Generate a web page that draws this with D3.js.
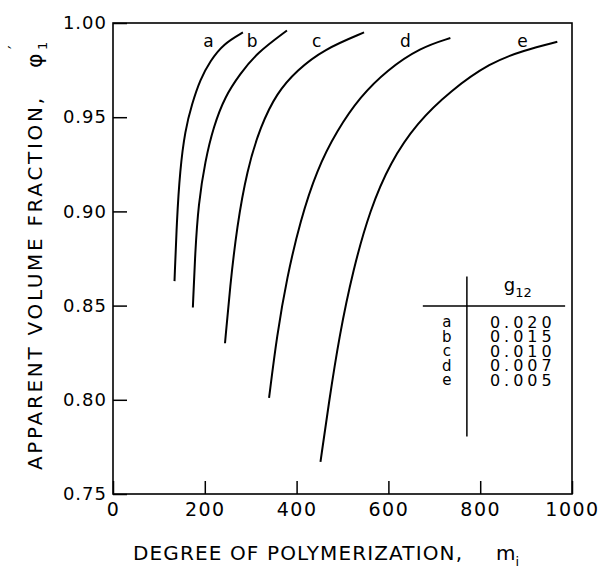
<!DOCTYPE html>
<html lang="en">

<head>
    <meta charset="UTF-8">
    <title>Apparent volume fraction</title>
    <style>
        body { margin: 0; background: #fff; }
        text { font-family: "DejaVu Sans", sans-serif; fill: #000; }
    </style>
</head>

<body>
    <svg id="vis"></svg>
    <script src="https://d3js.org/d3.v7.min.js"></script>
    <script>
        // Data: [degree of polymerization m_i, apparent volume fraction phi'_1]
        const curveA = [[134, 0.863], [139, 0.895], [146, 0.922], [157, 0.943], [172, 0.957], [190, 0.970], [212, 0.980], [241, 0.989], [283, 0.995]]
        const curveB = [[174, 0.849], [179, 0.878], [186, 0.904], [201, 0.927], [219, 0.945], [244, 0.961], [277, 0.973], [313, 0.984], [379, 0.996]]
        const curveC = [[244, 0.830], [255, 0.860], [270, 0.892], [292, 0.922], [321, 0.945], [357, 0.963], [401, 0.975], [459, 0.986], [547, 0.995]]
        const curveD = [[340, 0.801], [357, 0.834], [379, 0.865], [408, 0.895], [444, 0.922], [488, 0.943], [539, 0.961], [597, 0.975], [670, 0.987], [735, 0.992]]
        const curveE = [[452, 0.767], [470, 0.798], [493, 0.834], [523, 0.869], [560, 0.901], [604, 0.926], [662, 0.947], [735, 0.964], [822, 0.979], [895, 0.9855], [968, 0.990]]

        const curveNames = ['a', 'b', 'c', 'd', 'e']
        const g12Values = ['0.020', '0.015', '0.010', '0.007', '0.005']
        const xTicks = [0, 200, 400, 600, 800, 1000]
        const yTicks = [0.75, 0.80, 0.85, 0.90, 0.95, 1.00]

        const series = [curveA, curveB, curveC, curveD, curveE]

        // Layout
        const width = 616
        const height = 570
        const margin = { top: 23, right: 44, bottom: 76, left: 113 }
        const labelM = [208, 303, 444, 637, 892]   // where the curve letters sit
        const labelPhi = 0.9905

        const svg = d3.select('#vis').attr('width', width).attr('height', height)

        const x = d3.scaleLinear().domain([0, 1000]).range([margin.left, width - margin.right])
        const y = d3.scaleLinear().domain([0.75, 1.0]).range([height - margin.bottom, margin.top])

        // Axes (ticks point inward)
        const xAxis = svg.append('g')
            .attr('transform', `translate(0,${y(0.75)})`)
            .call(d3.axisBottom(x).tickValues(xTicks).tickSizeInner(-13).tickSizeOuter(0).tickPadding(9).tickFormat(d3.format('d')))
        xAxis.select('.domain').remove()
        xAxis.selectAll('.tick line').attr('stroke-width', 1.5)
        xAxis.selectAll('.tick text')
            .style('font-family', '"DejaVu Sans", sans-serif')
            .style('font-size', '19px')
            .style('letter-spacing', '1.5px')

        const yAxis = svg.append('g')
            .attr('transform', `translate(${x(0)},0)`)
            .call(d3.axisLeft(y).tickValues(yTicks).tickSizeInner(-14).tickSizeOuter(0).tickPadding(6).tickFormat(d3.format('.2f')))
        yAxis.select('.domain').remove()
        yAxis.selectAll('.tick line').attr('stroke-width', 1.5)
        yAxis.selectAll('.tick text')
            .style('font-family', '"DejaVu Sans", sans-serif')
            .style('font-size', '18px')
            .style('letter-spacing', '1px')

        // Frame
        svg.append('rect')
            .attr('x', x(0)).attr('y', y(1.0))
            .attr('width', x(1000) - x(0)).attr('height', y(0.75) - y(1.0))
            .attr('fill', 'none').attr('stroke', '#000').attr('stroke-width', 1.6)

        // Curves
        const line = d3.line()
            .x(d => x(d[0]))
            .y(d => y(d[1]))
            .curve(d3.curveBasis)

        svg.selectAll('path.curve')
            .data(series)
            .join('path')
            .attr('class', 'curve')
            .attr('d', line)
            .attr('fill', 'none')
            .attr('stroke', '#000')
            .attr('stroke-width', 2)

        svg.selectAll('text.curve-label')
            .data(curveNames)
            .join('text')
            .attr('class', 'curve-label')
            .attr('x', (d, i) => x(labelM[i]))
            .attr('y', y(labelPhi))
            .attr('dy', '0.35em')
            .attr('text-anchor', 'middle')
            .style('font-size', '17px')
            .text(d => d)

        // g12 table
        const tableX = x(771)
        const rowY = d3.scaleLinear().domain([0, 4]).range([y(0.8413), y(0.8105)])
        svg.append('line')
            .attr('x1', tableX).attr('x2', tableX)
            .attr('y1', y(0.8655)).attr('y2', y(0.7805))
            .attr('stroke', '#000').attr('stroke-width', 1.5)
        svg.append('line')
            .attr('x1', x(675)).attr('x2', x(985))
            .attr('y1', y(0.8498)).attr('y2', y(0.8498))
            .attr('stroke', '#000').attr('stroke-width', 1.5)

        const header = svg.append('text')
            .attr('x', x(882)).attr('y', y(0.8575))
            .attr('text-anchor', 'middle')
            .style('font-size', '18px')
        header.append('tspan').text('g')
        header.append('tspan').attr('dy', 6).style('font-size', '13px').text('12')

        svg.selectAll('text.row-name')
            .data(curveNames)
            .join('text')
            .attr('class', 'row-name')
            .attr('x', tableX - 20)
            .attr('y', (d, i) => rowY(i))
            .attr('dy', '0.36em')
            .attr('text-anchor', 'middle')
            .style('font-size', '15px')
            .text(d => d)

        svg.selectAll('text.row-value')
            .data(g12Values)
            .join('text')
            .attr('class', 'row-value')
            .attr('x', tableX + 23)
            .attr('y', (d, i) => rowY(i))
            .attr('dy', '0.36em')
            .style('font-size', '16px')
            .style('letter-spacing', '4px')
            .text(d => d)

        // Axis titles
        const xTitle = svg.append('g')
        xTitle.append('text')
            .attr('x', 133).attr('y', 560)
            .attr('textLength', 329).attr('lengthAdjust', 'spacing')
            .style('font-size', '20px')
            .text('DEGREE OF POLYMERIZATION,')
        const mi = xTitle.append('text').attr('x', 496).attr('y', 560).style('font-size', '20px')
        mi.append('tspan').text('m')
        mi.append('tspan').attr('dy', 6).style('font-size', '13px').text('i')

        const yTitle = svg.append('g').attr('transform', 'translate(42,470) rotate(-90)')
        yTitle.append('text')
            .attr('x', 0).attr('y', 0)
            .attr('textLength', 372).attr('lengthAdjust', 'spacing')
            .style('font-size', '20px')
            .text('APPARENT VOLUME FRACTION,')
        yTitle.append('text').attr('x', 402).attr('y', 0).style('font-size', '22px').text('\u03C6')
        yTitle.append('text').attr('x', 421).attr('y', -22).style('font-size', '16px').text('\u2032')
        yTitle.append('text').attr('x', 420).attr('y', 5).style('font-size', '13px').text('1')
    </script>
</body>

</html>
